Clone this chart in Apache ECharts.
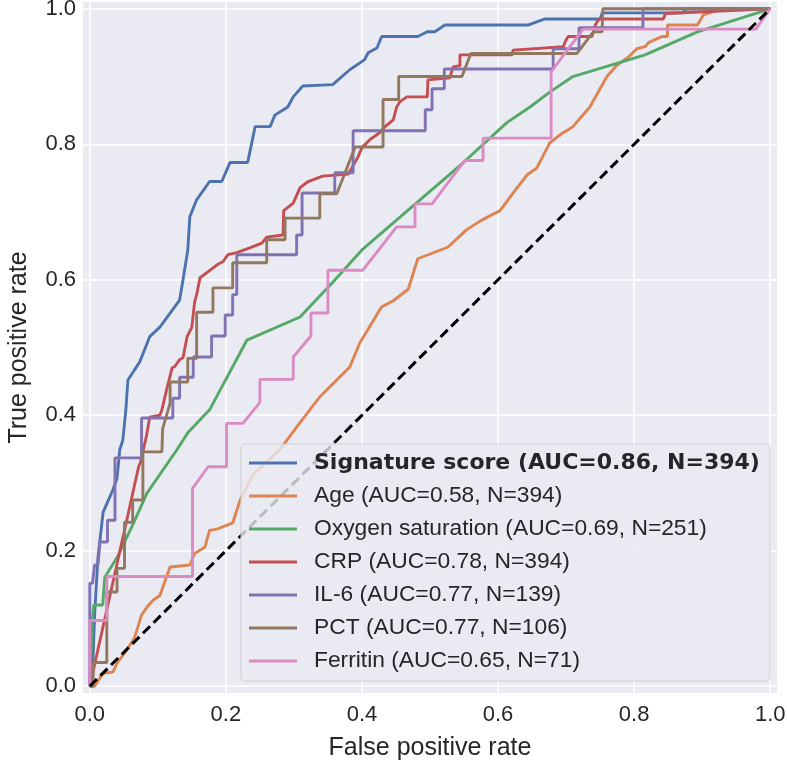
<!DOCTYPE html>
<html>
<head>
<meta charset="utf-8">
<script src="https://cdn.jsdelivr.net/npm/echarts@6/dist/echarts.min.js"></script>
<style>html,body{margin:0;padding:0;background:#fff;}#c{width:787px;height:764px;}</style>
</head>
<body>
<div id="c"></div>
<script>
const tickValues = [0, 0.2, 0.4, 0.6, 0.8, 1.0];
const seriesNames = [
  'Signature score (AUC=0.86, N=394)',
  'Age (AUC=0.58, N=394)',
  'Oxygen saturation (AUC=0.69, N=251)',
  'CRP (AUC=0.78, N=394)',
  'IL-6 (AUC=0.77, N=139)',
  'PCT (AUC=0.77, N=106)',
  'Ferritin (AUC=0.65, N=71)'
];
const signatureROC = [[0,0],[0.0044,0.034],[0.0074,0.112],[0.012,0.19],[0.0196,0.257],[0.034,0.290],[0.040,0.307],[0.044,0.349],[0.0485,0.363],[0.053,0.408],[0.056,0.452],[0.0735,0.479],[0.088,0.516],[0.103,0.530],[0.132,0.570],[0.137,0.600],[0.144,0.644],[0.147,0.693],[0.157,0.718],[0.176,0.745],[0.194,0.745],[0.206,0.773],[0.232,0.773],[0.243,0.826],[0.265,0.826],[0.272,0.843],[0.291,0.855],[0.299,0.870],[0.313,0.886],[0.357,0.888],[0.382,0.910],[0.404,0.925],[0.409,0.935],[0.422,0.942],[0.429,0.959],[0.482,0.959],[0.496,0.966],[0.507,0.966],[0.522,0.976],[0.644,0.976],[0.669,0.985],[0.750,0.985],[0.753,0.994],[0.872,0.994],[0.876,1.0],[1,1]];
const ageROC = [[0,0],[0.007,0],[0.019,0.019],[0.034,0.021],[0.040,0.034],[0.054,0.053],[0.066,0.072],[0.076,0.105],[0.085,0.118],[0.093,0.127],[0.103,0.134],[0.118,0.176],[0.147,0.179],[0.154,0.196],[0.169,0.205],[0.176,0.230],[0.187,0.232],[0.210,0.241],[0.221,0.275],[0.240,0.312],[0.279,0.349],[0.309,0.389],[0.338,0.427],[0.382,0.471],[0.397,0.507],[0.429,0.560],[0.446,0.569],[0.468,0.586],[0.482,0.631],[0.526,0.648],[0.554,0.674],[0.576,0.688],[0.603,0.702],[0.622,0.728],[0.643,0.755],[0.657,0.765],[0.676,0.802],[0.691,0.814],[0.710,0.826],[0.735,0.855],[0.760,0.900],[0.775,0.917],[0.791,0.928],[0.804,0.941],[0.816,0.944],[0.821,0.950],[0.834,0.956],[0.841,0.959],[0.849,0.959],[0.849,0.976],[0.893,0.976],[0.902,0.991],[0.929,1.0],[1,1]];
const oxygenROC = [[0,0],[0.004,0.10],[0.006,0.12],[0.019,0.12],[0.022,0.161],[0.040,0.19],[0.064,0.24],[0.084,0.285],[0.128,0.349],[0.144,0.374],[0.176,0.408],[0.231,0.511],[0.309,0.545],[0.353,0.592],[0.400,0.644],[0.549,0.773],[0.613,0.832],[0.647,0.855],[0.676,0.877],[0.710,0.900],[0.816,0.932],[0.893,0.966],[1,1]];
const crpROC = [[0,0],[0.072,0.325],[0.074,0.329],[0.083,0.368],[0.088,0.397],[0.103,0.400],[0.106,0.408],[0.112,0.434],[0.121,0.470],[0.125,0.472],[0.132,0.482],[0.137,0.485],[0.143,0.516],[0.150,0.530],[0.154,0.567],[0.157,0.578],[0.162,0.603],[0.174,0.612],[0.187,0.622],[0.196,0.627],[0.203,0.637],[0.216,0.640],[0.235,0.647],[0.253,0.654],[0.260,0.663],[0.284,0.666],[0.285,0.702],[0.299,0.713],[0.309,0.736],[0.321,0.745],[0.342,0.753],[0.380,0.756],[0.394,0.781],[0.400,0.795],[0.412,0.807],[0.426,0.817],[0.434,0.826],[0.446,0.836],[0.451,0.855],[0.456,0.863],[0.466,0.870],[0.496,0.870],[0.497,0.895],[0.529,0.898],[0.534,0.914],[0.544,0.916],[0.544,0.932],[0.621,0.932],[0.622,0.939],[0.696,0.944],[0.699,0.952],[0.703,0.959],[0.738,0.959],[0.743,0.976],[0.747,0.983],[0.750,0.985],[0.843,0.985],[0.846,0.993],[1,1]];
const il6ROC = [[0,0],[0,0.152],[0.004,0.152],[0.007,0.179],[0.012,0.179],[0.015,0.213],[0.026,0.213],[0.026,0.245],[0.037,0.245],[0.037,0.337],[0.076,0.337],[0.076,0.396],[0.122,0.396],[0.122,0.425],[0.132,0.425],[0.132,0.456],[0.152,0.456],[0.152,0.486],[0.179,0.486],[0.179,0.517],[0.199,0.517],[0.199,0.548],[0.210,0.548],[0.210,0.578],[0.216,0.578],[0.216,0.637],[0.304,0.637],[0.304,0.666],[0.312,0.666],[0.312,0.728],[0.360,0.728],[0.360,0.758],[0.387,0.758],[0.387,0.820],[0.493,0.820],[0.493,0.851],[0.503,0.851],[0.503,0.882],[0.521,0.882],[0.521,0.911],[0.681,0.911],[0.681,0.941],[0.719,0.941],[0.719,0.972],[0.813,0.972],[0.813,1.0],[1,1]];
const pctROC = [[0,0],[0.005,0],[0.005,0.035],[0.025,0.035],[0.025,0.139],[0.040,0.139],[0.040,0.174],[0.051,0.174],[0.051,0.242],[0.063,0.242],[0.063,0.275],[0.078,0.275],[0.078,0.346],[0.106,0.346],[0.107,0.380],[0.118,0.418],[0.118,0.449],[0.144,0.449],[0.144,0.484],[0.157,0.484],[0.157,0.552],[0.181,0.552],[0.181,0.588],[0.210,0.588],[0.210,0.625],[0.260,0.625],[0.260,0.659],[0.287,0.659],[0.287,0.691],[0.338,0.691],[0.338,0.727],[0.363,0.727],[0.390,0.796],[0.431,0.796],[0.431,0.866],[0.454,0.866],[0.454,0.900],[0.547,0.900],[0.560,0.934],[0.716,0.934],[0.740,0.966],[0.753,0.966],[0.754,1.0],[1,1]];
const ferritinROC = [[0,0],[0,0.097],[0.025,0.097],[0.025,0.162],[0.151,0.162],[0.151,0.292],[0.174,0.324],[0.201,0.324],[0.201,0.388],[0.225,0.388],[0.250,0.419],[0.250,0.453],[0.299,0.453],[0.299,0.486],[0.325,0.517],[0.325,0.551],[0.350,0.551],[0.350,0.614],[0.401,0.614],[0.451,0.678],[0.478,0.678],[0.478,0.712],[0.503,0.712],[0.551,0.776],[0.578,0.776],[0.578,0.809],[0.678,0.809],[0.678,0.907],[0.725,0.970],[0.979,0.970],[1,1]];
const chanceLine = [[0,0],[1,1]];

const colors = ['#4C72B0','#DD8452','#55A868','#C44E52','#8172B3','#937860','#DA8BC3'];
const allData = [signatureROC, ageROC, oxygenROC, crpROC, il6ROC, pctROC, ferritinROC];
const FONT = '"Liberation Sans", Arial, sans-serif';
const TXT = '#262626';

const series = allData.map((d, i) => ({
  name: seriesNames[i],
  type: 'line',
  data: d,
  symbol: 'none',
  color: colors[i],
  itemStyle: { color: colors[i] },
  lineStyle: { width: 2.9, color: colors[i] },
  z: 2 + i * 0.01,
  animation: false
}));
series.push({
  name: 'chance',
  type: 'line',
  data: chanceLine,
  symbol: 'none',
  lineStyle: { width: 3, color: '#000', type: [10, 5] },
  z: 3,
  animation: false
});

const chart = echarts.init(document.getElementById('c'), null, { renderer: 'canvas' });
chart.setOption({
  backgroundColor: '#fff',
  animation: false,
  grid: { left: 83, right: 10, top: 2, bottom: 71, show: true, backgroundColor: '#EAEAF2', borderWidth: 0, outerBoundsMode: 'none', containLabel: false },
  xAxis: {
    type: 'value', min: -0.01, max: 1.01,
    axisLine: { show: false },
    axisTick: { show: false, customValues: tickValues },
    axisLabel: { customValues: tickValues, formatter: v => v.toFixed(1), fontSize: 22, color: TXT, fontFamily: FONT, margin: 11 },
    splitLine: { show: true, lineStyle: { color: '#ffffff', width: 1.6 } },
    name: 'False positive rate', nameLocation: 'middle', nameGap: 43, nameMoveOverlap: false,
    nameTextStyle: { fontSize: 25, color: TXT, fontFamily: FONT }
  },
  yAxis: {
    type: 'value', min: -0.01, max: 1.01,
    axisLine: { show: false },
    axisTick: { show: false, customValues: tickValues },
    axisLabel: { customValues: tickValues, formatter: v => v.toFixed(1), fontSize: 22, color: TXT, fontFamily: FONT, margin: 7 },
    splitLine: { show: true, lineStyle: { color: '#ffffff', width: 1.6 } },
    name: 'True positive rate', nameLocation: 'middle', nameGap: 51, nameRotate: 90, nameMoveOverlap: false,
    nameTextStyle: { fontSize: 25, color: TXT, fontFamily: FONT }
  },
  legend: {
    data: seriesNames,
    orient: 'vertical',
    left: 241, top: 444,
    padding: [6, 10, 7, 8],
    icon: 'rect',
    itemWidth: 48, itemHeight: 3, itemGap: 7,
    backgroundColor: 'rgba(234,234,242,0.8)',
    borderColor: 'rgba(204,204,204,0.8)', borderWidth: 1.2, borderRadius: 4,
    formatter: name => name === seriesNames[0] ? '{b|' + name + '}' : name,
    textStyle: {
      fontSize: 22.8, fontFamily: FONT, color: TXT, lineHeight: 26, padding: [0, 0, 0, 12],
      rich: { b: { fontWeight: 'bold', fontFamily: '"DejaVu Sans", sans-serif', fontSize: 22, color: TXT, lineHeight: 26 } }
    }
  },
  series: series
});
</script>
</body>
</html>
